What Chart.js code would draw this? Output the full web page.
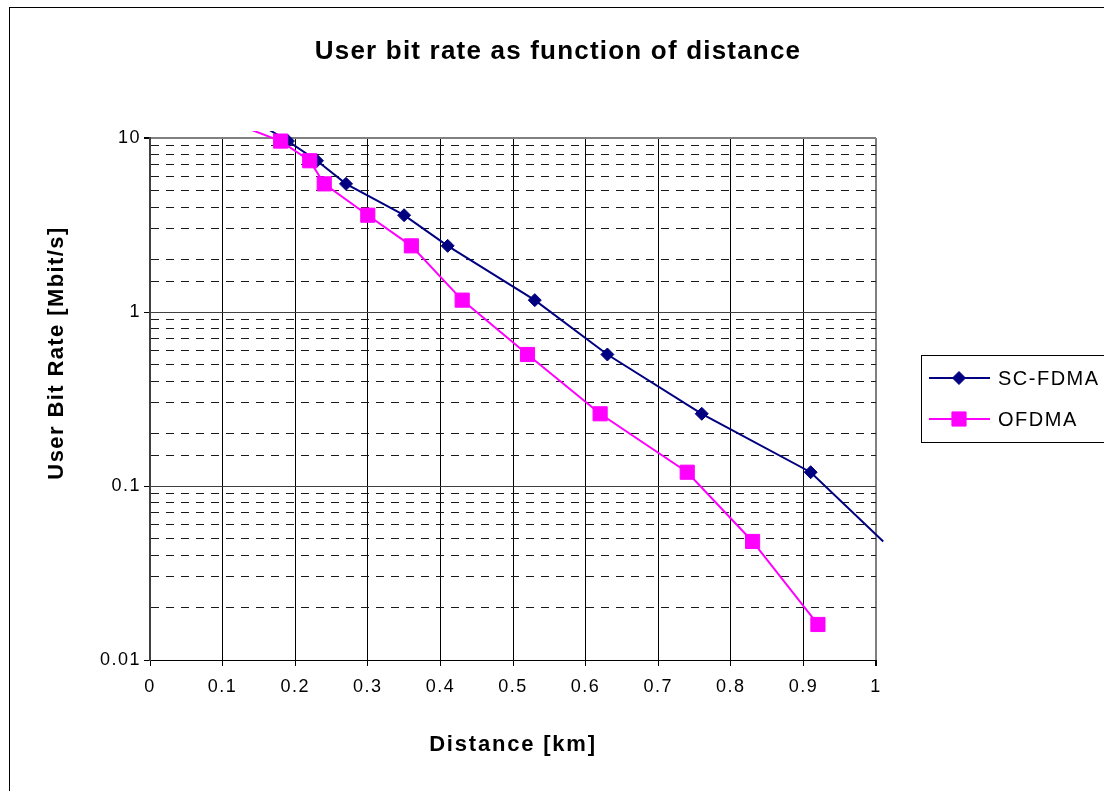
<!DOCTYPE html>
<html>
<head>
<meta charset="utf-8">
<title>User bit rate as function of distance</title>
<script src="https://cdn.jsdelivr.net/npm/chart.js@4/dist/chart.umd.min.js"></script>
<style>
  html, body { margin: 0; padding: 0; background: #fff; }
  canvas { display: block; }
</style>
</head>
<body>
<canvas id="chart" width="1104" height="791"></canvas>
<script>
// values (km, Mbit/s)
// first/last entries sit outside the axes: only their line stubs show
const scFdmaDistance = [0.12, 0.19, 0.23, 0.27, 0.35, 0.41, 0.53, 0.63, 0.76, 0.91, 1.01];
const scFdmaRate = [14.4, 9.6, 7.4, 5.45, 3.6, 2.4, 1.17, 0.57, 0.26, 0.12, 0.048];
const ofdmaDistance = [0.07, 0.18, 0.22, 0.24, 0.30, 0.36, 0.43, 0.52, 0.62, 0.74, 0.83, 0.92];
const ofdmaRate = [14.4, 9.6, 7.4, 5.45, 3.6, 2.4, 1.17, 0.57, 0.26, 0.12, 0.048, 0.016];

const xTickLabels = ['0', '0.1', '0.2', '0.3', '0.4', '0.5', '0.6', '0.7', '0.8', '0.9', '1'];
const yTickLabels = ['0.01', '0.1', '1', '10'];

const chartTitle = 'User bit rate as function of distance';
const xAxisTitle = 'Distance [km]';
const yAxisTitle = 'User Bit Rate [Mbit/s]';

const FONT = '"Liberation Sans", Arial, Helvetica, sans-serif';
const markerSize = { rectRot: 6.5, rect: 10 };

const isDecade = v => Math.abs(Math.log10(v) - Math.round(Math.log10(v))) < 1e-6;
const inPlot = p => p && p.x >= 0 && p.x <= 1 && p.y >= 0.01 && p.y <= 10;
const toPoints = (xs, ys) => xs.map((x, i) => ({ x, y: ys[i] }));

/**
 * Draws a legend marker (diamond or square) like the series markers
 */
const drawMarker = (ctx, style, x, y) => {
    const r = markerSize[style];
    ctx.beginPath();
    if (style === 'rectRot') {
        ctx.moveTo(x - r, y);
        ctx.lineTo(x, y - r);
        ctx.lineTo(x + r, y);
        ctx.lineTo(x, y + r);
    } else {
        const h = r * Math.SQRT1_2;
        ctx.rect(x - h, y - h, 2 * h, 2 * h);
    }
    ctx.closePath();
    ctx.fill();
    ctx.stroke();
};

// Excel-like frame: outer border, titles and boxed legend
const framePlugin = {
    id: 'frame',
    beforeDraw: chart => {
        chart.ctx.letterSpacing = '1.5px';
    },
    afterDraw: chart => {
        const ctx = chart.ctx;
        ctx.save();
        ctx.strokeStyle = '#000';
        ctx.lineWidth = 1;
        ctx.strokeRect(9.5, 7.5, 1200, 900);

        ctx.fillStyle = '#000';
        ctx.textAlign = 'center';
        ctx.textBaseline = 'middle';
        ctx.letterSpacing = '1.2px';
        ctx.font = `bold 26px ${FONT}`;
        ctx.fillText(chartTitle, 558, 52);

        ctx.letterSpacing = '1.8px';
        ctx.font = `bold 22px ${FONT}`;
        ctx.fillText(xAxisTitle, 513, 745);

        ctx.save();
        ctx.translate(57, 353);
        ctx.rotate(-Math.PI / 2);
        ctx.letterSpacing = '1.4px';
        ctx.fillText(yAxisTitle, 0, 0);
        ctx.restore();

        ctx.strokeStyle = '#000';
        ctx.lineWidth = 1;
        ctx.strokeRect(921.5, 355.5, 300, 87);
        ctx.letterSpacing = '1.5px';
        chart.data.datasets.forEach((ds, i) => {
            const y = 378 + i * 41;
            ctx.strokeStyle = ds.borderColor;
            ctx.lineWidth = 2;
            ctx.beginPath();
            ctx.moveTo(929, y);
            ctx.lineTo(990, y);
            ctx.stroke();
            ctx.fillStyle = ds.backgroundColor;
            ctx.lineWidth = 1;
            drawMarker(ctx, ds.pointStyle, 959, y);
            ctx.fillStyle = '#000';
            ctx.textAlign = 'left';
            ctx.font = `20px ${FONT}`;
            ctx.fillText(ds.label, 998, y + 1);
        });
        ctx.restore();
    }
};

const drawChart = () => {
    const chartObj = document.getElementById('chart');
    return new Chart(chartObj, {
        type: 'scatter',
        data: {
            datasets: [{
                label: 'SC-FDMA',
                data: toPoints(scFdmaDistance, scFdmaRate),
                borderColor: '#000080',
                backgroundColor: '#000080',
                borderWidth: 2,
                showLine: true,
                pointStyle: 'rectRot',
                pointRadius: c => inPlot(c.raw) ? markerSize.rectRot : 0,
                pointBorderWidth: 1,
                clip: { left: 10, top: 7, right: 9, bottom: 10 },
                order: 1
            }, {
                label: 'OFDMA',
                data: toPoints(ofdmaDistance, ofdmaRate),
                borderColor: '#FF00FF',
                backgroundColor: '#FF00FF',
                borderWidth: 2,
                showLine: true,
                pointStyle: 'rect',
                pointRadius: c => inPlot(c.raw) ? markerSize.rect : 0,
                pointBorderWidth: 1,
                clip: { left: 10, top: 7, right: 9, bottom: 10 },
                order: 0
            }]
        },
        options: {
            responsive: false,
            animation: false,
            devicePixelRatio: 1,
            layout: {
                padding: { left: 0, top: 138, right: 228, bottom: 0 }
            },
            plugins: {
                legend: { display: false },
                title: { display: false },
                tooltip: { enabled: false }
            },
            scales: {
                x: {
                    type: 'linear',
                    min: 0,
                    max: 1,
                    afterFit: s => { s.height = 131; },
                    ticks: {
                        stepSize: 0.1,
                        autoSkip: false,
                        maxRotation: 0,
                        padding: 10,
                        color: '#000',
                        font: { family: FONT, size: 18 },
                        callback: v => xTickLabels[Math.round(v * 10)]
                    },
                    grid: {
                        color: c => c.tick && c.tick.value > 0.999 ? '#808080' : '#000',
                        lineWidth: c => c.tick && c.tick.value > 0.999 ? 2 : 1,
                        tickLength: 6,
                        tickColor: '#000'
                    },
                    border: { color: '#000', width: 1 }
                },
                y: {
                    type: 'logarithmic',
                    min: 0.01,
                    max: 10,
                    afterFit: s => { s.width = 150; },
                    ticks: {
                        autoSkip: false,
                        padding: 3,
                        color: '#000',
                        font: { family: FONT, size: 18 },
                        callback: v => isDecade(v)
                            ? (yTickLabels.find(l => Math.abs(Number(l) - v) < v * 1e-6) || '')
                            : ''
                    },
                    grid: {
                        color: c => {
                            if (!c.tick) return '#000';
                            if (c.tick.value > 9.99) return '#808080';
                            return isDecade(c.tick.value) ? '#404040' : '#1a1a1a';
                        },
                        lineWidth: c => c.tick && c.tick.value > 9.99 ? 2 : 1,
                        tickLength: 6,
                        tickColor: c => c.tick && isDecade(c.tick.value) ? '#000' : 'rgba(0,0,0,0)'
                    },
                    border: {
                        color: '#404040',
                        width: 2,
                        dash: c => c.tick && !isDecade(c.tick.value) ? [8, 7] : []
                    }
                }
            }
        },
        plugins: [framePlugin]
    });
};

drawChart();
</script>
</body>
</html>
